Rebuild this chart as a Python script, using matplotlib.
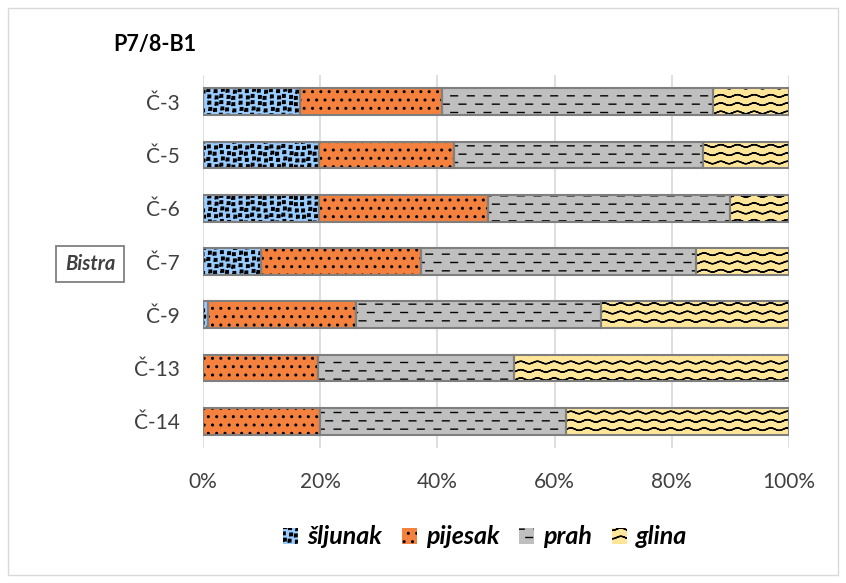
import matplotlib
matplotlib.use("Agg")
import matplotlib.pyplot as plt
import matplotlib.hatch as mhatch
from matplotlib.path import Path
from matplotlib.patches import Rectangle
import numpy as np

plt.rcParams['font.family'] = ['Lato', 'DejaVu Sans']
plt.rcParams['hatch.linewidth'] = 1.0

samples = ['Č-3', 'Č-5', 'Č-6', 'Č-7', 'Č-9', 'Č-13', 'Č-14']
sljunak = [16.6, 19.8, 19.8, 9.9, 0.9, 0.0, 0.0]
pijesak = [24.1, 23.0, 28.8, 27.3, 25.2, 19.7, 20.0]
prah = [46.3, 42.5, 41.4, 46.9, 41.8, 33.4, 41.9]
glina = [13.0, 14.7, 10.0, 15.9, 32.1, 46.9, 38.1]

series = [('šljunak', sljunak, '#99CCFF', 'q'),
          ('pijesak', pijesak, '#F4823E', '..'),
          ('prah', prah, '#BFBFBF', 'd'),
          ('glina', glina, '#FFE699', 'w')]


# --- custom fill patterns (Excel-like textures) ---
class TextureHatch(mhatch.HatchPatternBase):
    char = None

    def __init__(self, hatch, density):
        self.segs = self.build() if self.char in hatch else []
        self.num_vertices = sum(len(s) for s in self.segs)

    def set_vertices_and_codes(self, vertices, codes):
        i = 0
        for s in self.segs:
            k = len(s)
            vertices[i:i + k] = s
            codes[i] = Path.MOVETO
            codes[i + 1:i + k] = Path.LINETO
            i += k


class Squares(TextureHatch):
    char = 'q'

    def build(self):
        n = 16
        c = 1.0 / n
        h = 0.2 * c
        segs = []
        for i in range(n):
            for j in range(n):
                jx = (((i * 7 + j * 3) % 5) - 2) * 0.08 * c
                jy = (((i * 3 + j * 5) % 5) - 2) * 0.08 * c
                x0 = (i + 0.5) * c + jx
                y0 = (j + 0.5) * c + jy
                segs.append([(x0 - h, y0 - h), (x0 + h, y0 - h), (x0 + h, y0 + h),
                             (x0 - h, y0 + h), (x0 - h, y0 - h)])
        return segs


class Dashes(TextureHatch):
    char = 'd'

    def build(self):
        rows, per = 12, 6
        p = 1.0 / per
        segs = []
        for r in range(rows):
            y0 = (r + 0.5) / rows
            off = 0.0 if r % 2 == 0 else 0.5 * p
            for k in range(per):
                segs.append([(k * p + off + 0.05 * p, y0), (k * p + off + 0.45 * p, y0)])
        return segs


class Waves(TextureHatch):
    char = 'w'

    def build(self):
        rows = 12
        xs = np.linspace(0, 1, 97)
        segs = []
        for r in range(rows):
            y0 = (r + 0.5) / rows
            ys = y0 + 0.012 * np.sin(2 * np.pi * 6 * xs)
            fwd = list(zip(xs, ys))
            segs.append(fwd + fwd[::-1])
        return segs


mhatch._hatch_types.extend([Squares, Dashes, Waves])
mhatch._validate_hatch_pattern = lambda hatch: None

fig = plt.figure(figsize=(8.46, 5.83), dpi=100)
ax = fig.add_axes([203/846, 1-448/583, 586/846, 373/583])

y = np.arange(len(samples))
left = np.zeros(len(samples))
handles = []
for name, vals, col, h in series:
    vals = np.array(vals)
    ax.barh(y, vals, left=left, height=0.5, color=col, edgecolor='black',
            hatch=h, linewidth=0, zorder=3)
    ax.barh(y, vals, left=left, height=0.5, fill=False, edgecolor='#7F7F7F',
            linewidth=1.5, zorder=4)
    handles.append(Rectangle((0, 0), 1, 1, facecolor=col, edgecolor='black',
                             hatch=h, linewidth=0))
    left += vals

ax.set_xlim(0, 100)
ax.set_ylim(len(samples) - 0.5, -0.5)
ax.set_yticks(y)
ax.set_yticklabels(samples, fontsize=15, color='#404040')
ax.set_xticks(np.arange(0, 101, 20))
ax.set_xticklabels([f'{v}%' for v in range(0, 101, 20)], fontsize=15, color='#404040')
ax.tick_params(length=0)
ax.tick_params(axis='y', pad=17)
ax.tick_params(axis='x', pad=17)
ax.grid(axis='x', color='#D9D9D9', linewidth=1.2, zorder=0)
for s in ax.spines.values():
    s.set_visible(False)

fig.text(113/846, 1-45/583, 'P7/8-B1', fontsize=15.5, fontweight='bold', va='center', ha='left')
fig.text(90/846, 1-264/583, 'Bistra', fontsize=14.5, fontweight='bold', style='italic',
         color='#404040', ha='center', va='center',
         bbox=dict(boxstyle='square,pad=0.42', facecolor='white', edgecolor='#808080', linewidth=1.3))

leg = fig.legend(handles, [s[0] for s in series], loc='center', bbox_to_anchor=(485/846, 1-537/583),
                 ncol=4, frameon=False, handlelength=0.6, handleheight=0.6, handletextpad=0.35,
                 columnspacing=0.8, prop=dict(size=18, weight='bold', style='italic'))
for p in leg.get_patches():
    p.set_edgecolor('black')

fig.patches.append(Rectangle((8/846, 8/583), 830/846, 567/583, transform=fig.transFigure,
                             fill=False, edgecolor='#D9D9D9', linewidth=1))

fig.savefig('out.png', dpi=100)
